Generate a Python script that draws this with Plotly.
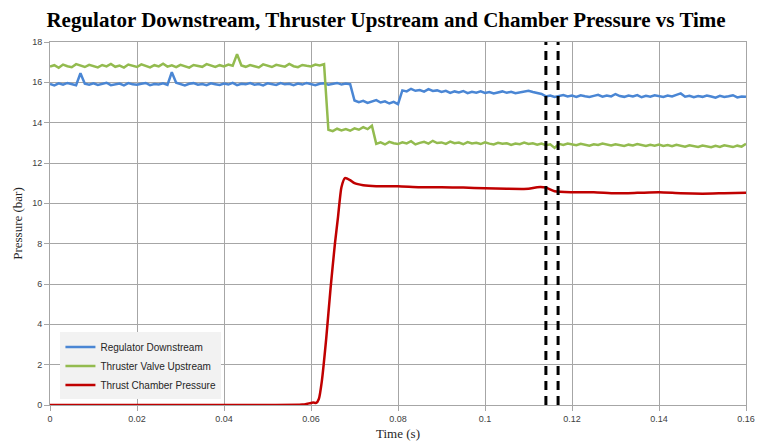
import plotly.graph_objects as go

# ---------------- data ----------------
sample_ms = list(range(161))  # sample index, 1 ms spacing
time_s = [m / 1000 for m in sample_ms]

regulator_downstream = [
    15.92, 15.85, 15.95, 15.88, 15.97, 15.90, 15.86, 16.45, 15.93, 15.88,
    15.95, 15.87, 15.92, 15.98, 15.86, 15.91, 15.94, 15.85, 15.96, 15.90,
    15.88, 15.93, 15.97, 15.86, 15.92, 15.89, 15.95, 15.87, 16.50, 15.98,
    15.90, 15.85, 15.93, 15.96, 15.88, 15.92, 15.86, 15.95, 15.91, 15.87,
    15.94, 15.89, 15.97, 15.86, 15.93, 15.90, 15.96, 15.88, 15.92, 15.85,
    15.95, 15.91, 15.87, 15.96, 15.90, 15.93, 15.86, 15.94, 15.89, 15.97,
    15.90, 15.86, 15.93, 15.95, 15.88, 15.92, 15.97, 15.89, 15.94, 15.91,
    15.10, 15.02, 15.08, 14.98, 15.05, 15.12, 15.00, 15.06, 14.95, 15.03,
    14.92, 15.60, 15.55, 15.68, 15.58, 15.62, 15.54, 15.66, 15.57, 15.60,
    15.52, 15.58, 15.48, 15.55, 15.50, 15.57, 15.46, 15.53, 15.49, 15.55,
    15.47, 15.52, 15.45, 15.50, 15.55, 15.48, 15.53, 15.46, 15.51, 15.56,
    15.58, 15.52, 15.48, 15.42, 15.30, 15.35, 15.28, 15.33, 15.37, 15.30,
    15.34, 15.28, 15.36, 15.31, 15.27, 15.33, 15.38, 15.29, 15.35, 15.30,
    15.42, 15.32, 15.28, 15.35, 15.30, 15.37, 15.26, 15.33, 15.29, 15.36,
    15.31, 15.27, 15.34, 15.30, 15.38, 15.45, 15.29, 15.33, 15.26, 15.32,
    15.28, 15.35, 15.30, 15.24, 15.33, 15.27, 15.31, 15.36, 15.25, 15.30,
    15.28,
]

thruster_valve_upstream = [
    16.78, 16.85, 16.72, 16.88, 16.80, 16.75, 16.90, 16.82, 16.76, 16.87,
    16.80, 16.74, 16.86, 16.79, 16.91, 16.77, 16.83, 16.73, 16.88, 16.81,
    16.76, 16.89, 16.82, 16.74, 16.85, 16.79, 16.92, 16.78, 16.84, 16.75,
    16.87, 16.80, 16.73, 16.86, 16.81, 16.77, 16.90, 16.83, 16.76, 16.85,
    16.79, 16.88, 16.82, 17.40, 16.84, 16.77, 16.86, 16.80, 16.74, 16.89,
    16.81, 16.76, 16.87, 16.83, 16.78, 16.91, 16.80, 16.75, 16.86, 16.82,
    16.79, 16.88, 16.84, 16.90, 13.65, 13.58, 13.70, 13.62, 13.68, 13.60,
    13.72, 13.65, 13.78, 13.68, 13.85, 12.95, 13.02, 12.92, 13.05, 12.98,
    12.94, 13.03, 12.97, 13.08, 12.92, 13.00, 13.05, 12.96, 13.10, 12.99,
    13.02, 12.95, 13.06, 12.98, 13.01, 12.93, 13.04, 12.97, 13.00, 12.94,
    13.03, 12.96, 12.92, 13.00, 12.95, 12.98, 12.90, 12.97, 12.93, 13.01,
    12.94, 12.98, 12.91, 12.96, 12.88, 12.93, 12.75, 12.95, 12.90, 12.97,
    12.92, 12.88, 12.95, 12.90, 12.86, 12.93, 12.89, 12.96, 12.91, 12.87,
    12.93, 12.88, 12.85, 12.91, 12.87, 12.94, 12.89, 12.84, 12.90, 12.86,
    12.92, 12.85, 12.89, 12.83, 12.90, 12.86, 12.81, 12.88, 12.84, 12.80,
    12.87, 12.82, 12.78, 12.85, 12.80, 12.88, 12.83, 12.79, 12.86, 12.81,
    12.95,
]

chamber_time_s = [
    0.0, 0.05, 0.058, 0.0595, 0.0605, 0.0612, 0.0618, 0.0625, 0.0635, 0.0645,
    0.0655, 0.0662, 0.067, 0.0678, 0.069, 0.070, 0.072, 0.075, 0.08, 0.085,
    0.09, 0.095, 0.10, 0.105, 0.11, 0.112, 0.114, 0.116, 0.12, 0.125,
    0.13, 0.135, 0.14, 0.145, 0.15, 0.155, 0.16,
]
chamber_pressure = [
    0.0, 0.0, 0.02, 0.08, 0.12, 0.10, 0.3, 1.2, 3.3, 5.8,
    8.0, 9.3, 10.8, 11.25, 11.15, 11.0, 10.9, 10.85, 10.85, 10.8,
    10.8, 10.78, 10.75, 10.72, 10.72, 10.8, 10.78, 10.6, 10.55, 10.55,
    10.5, 10.52, 10.55, 10.5, 10.48, 10.5, 10.52,
]

marker_times = [0.114, 0.1168]

x_ticks = [0, 0.02, 0.04, 0.06, 0.08, 0.1, 0.12, 0.14, 0.16]
x_tick_labels = ["0", "0.02", "0.04", "0.06", "0.08", "0.1", "0.12", "0.14", "0.16"]
y_ticks = [0, 2, 4, 6, 8, 10, 12, 14, 16, 18]

# ---------------- figure ----------------
fig = go.Figure()

fig.add_trace(go.Scatter(
    x=time_s, y=regulator_downstream, mode="lines",
    name="Regulator Downstream",
    line=dict(color="#4a86d4", width=2.5),
))
fig.add_trace(go.Scatter(
    x=time_s, y=thruster_valve_upstream, mode="lines",
    name="Thruster Valve Upstream",
    line=dict(color="#93bb4f", width=2.5),
))
fig.add_trace(go.Scatter(
    x=chamber_time_s, y=chamber_pressure, mode="lines",
    name="Thrust Chamber Pressure",
    line=dict(color="#c00000", width=2.5, shape="spline", smoothing=0.6),
))
for t in marker_times:
    fig.add_trace(go.Scatter(
        x=[t, t], y=[0, 18], mode="lines", showlegend=False,
        line=dict(color="black", width=3, dash="9px,6px"),
        hoverinfo="skip",
    ))

axis_common = dict(
    showgrid=True, gridcolor="#a6a6a6", gridwidth=1,
    showline=True, linecolor="#a6a6a6", linewidth=1, mirror=True,
    ticks="outside", ticklen=5, tickcolor="#a6a6a6",
    zeroline=False, automargin=False,
    tickfont=dict(family="Liberation Sans", size=9, color="#404040"),
)

fig.update_xaxes(
    range=[0, 0.16], tickvals=x_ticks, ticktext=x_tick_labels,
    title=dict(text="Time (s)", font=dict(family="Liberation Serif", size=13, color="#262626"), standoff=6),
    **axis_common,
)
fig.update_yaxes(
    range=[0, 18], tickvals=y_ticks,
    title=dict(text="Pressure (bar)", font=dict(family="Liberation Serif", size=13, color="#262626"), standoff=6),
    **axis_common,
)

fig.update_layout(
    width=757, height=446,
    margin=dict(l=50, r=11, t=42, b=41, autoexpand=False),
    paper_bgcolor="white", plot_bgcolor="white",
    title=dict(
        text="<b>Regulator Downstream, Thruster Upstream and Chamber Pressure vs Time</b>",
        font=dict(family="Liberation Serif", size=21, color="black"),
        x=0.51, xanchor="center", y=0.955, yanchor="middle",
    ),
    legend=dict(
        x=0.015, y=0.2, xanchor="left", yanchor="top",
        bgcolor="#f2f2f2", borderwidth=0,
        font=dict(family="Liberation Sans", size=10, color="#262626"),
        tracegroupgap=2,
    ),
    showlegend=True,
)

fig.write_html("out.html")
